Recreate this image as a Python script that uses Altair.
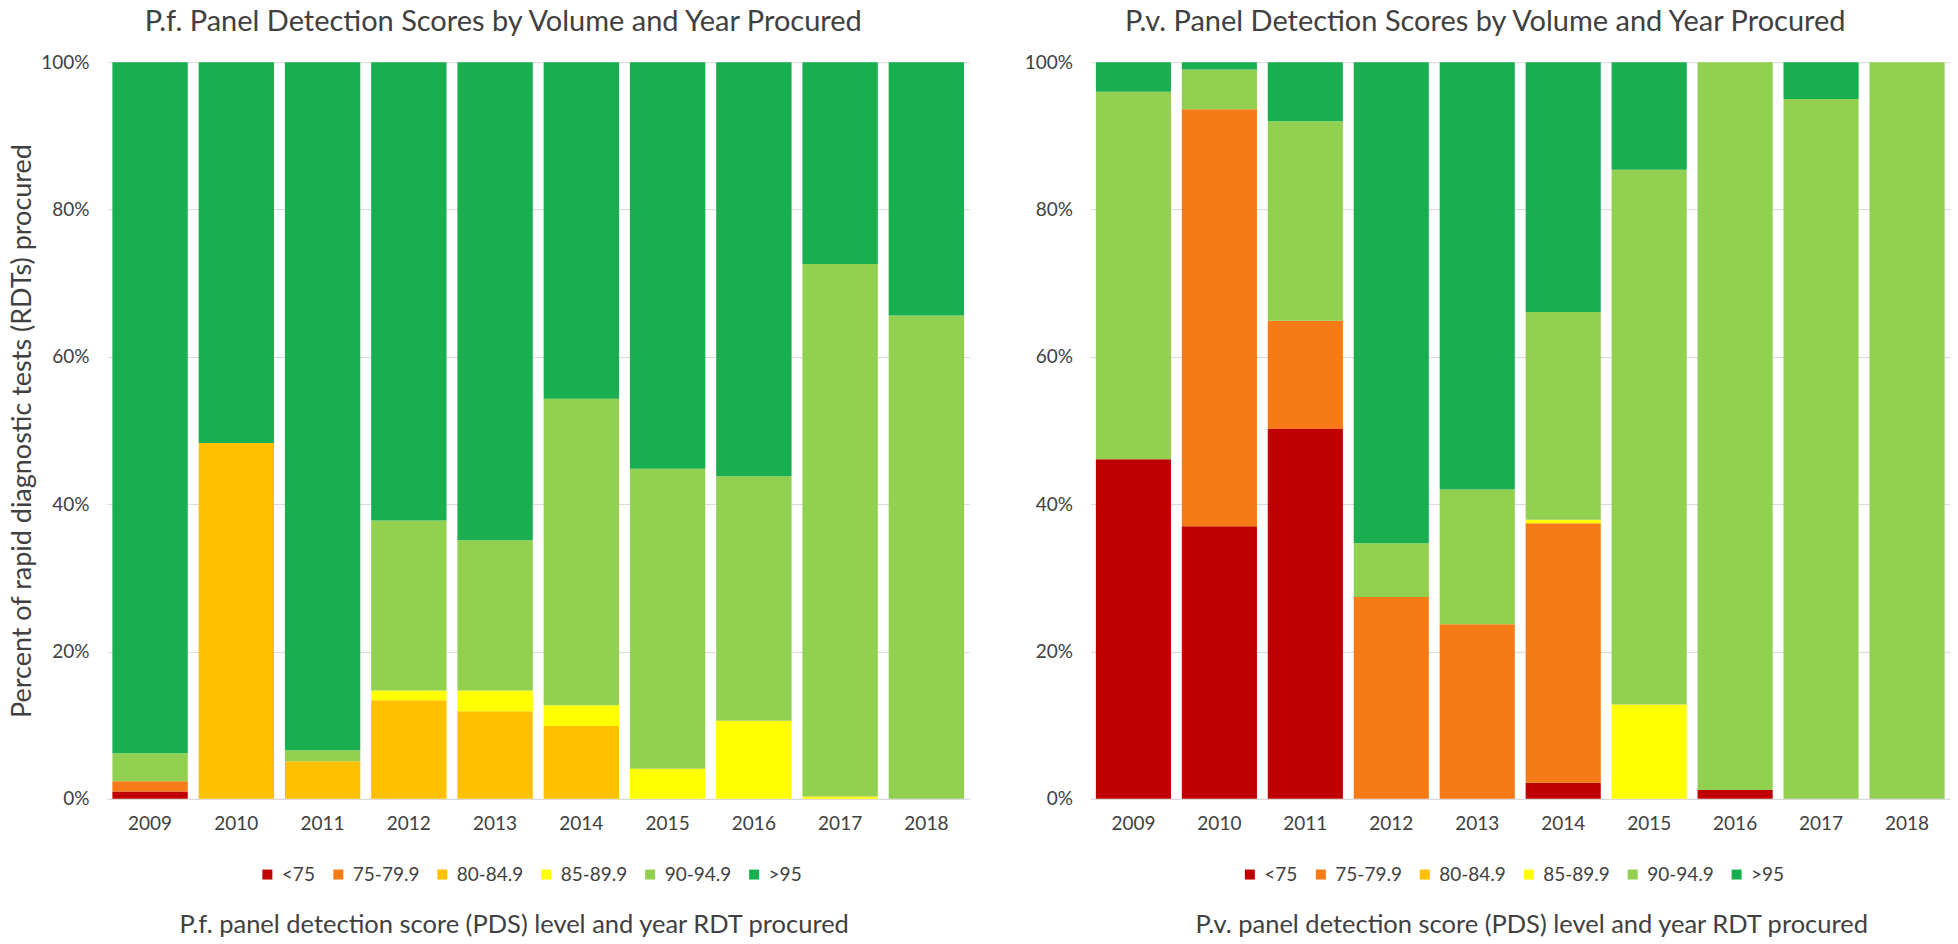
import altair as alt
import pandas as pd

years = ["2009", "2010", "2011", "2012", "2013", "2014", "2015", "2016", "2017", "2018"]
categories = ["<75", "75-79.9", "80-84.9", "85-89.9", "90-94.9", ">95"]
colors = ["#C00000", "#F67A15", "#FFC000", "#FFFF00", "#92D050", "#19AF50"]

# P.f. panel (percent of RDTs procured, per PDS level)
pf_lt75 = [1.0, 0, 0, 0, 0, 0, 0, 0, 0, 0]
pf_75_79 = [1.4, 0, 0, 0, 0, 0, 0, 0, 0, 0]
pf_80_84 = [0, 48.3, 5.1, 13.4, 11.9, 9.9, 0, 0, 0, 0]
pf_85_89 = [0, 0, 0, 1.3, 2.8, 2.8, 4.1, 10.6, 0.3, 0]
pf_90_94 = [3.8, 0, 1.5, 23.1, 20.4, 41.6, 40.7, 33.2, 72.3, 65.6]
pf_gt95 = [93.8, 51.7, 93.4, 62.2, 64.9, 45.7, 55.2, 56.2, 27.4, 34.4]

# P.v. panel
pv_lt75 = [46.1, 37.0, 50.2, 0, 0, 2.2, 0, 1.2, 0, 0]
pv_75_79 = [0, 56.6, 14.7, 27.4, 23.7, 35.2, 0, 0, 0, 0]
pv_80_84 = [0, 0, 0, 0, 0, 0, 0, 0, 0, 0]
pv_85_89 = [0, 0, 0, 0, 0, 0.5, 12.8, 0, 0, 0]
pv_90_94 = [49.9, 5.4, 27.1, 7.3, 18.3, 28.2, 72.6, 98.8, 95.0, 100.0]
pv_gt95 = [4.0, 1.0, 8.0, 65.3, 58.0, 33.9, 14.6, 0, 5.0, 0]

FONT = "Lato"
TXT = "#404040"
GRID = "#D9D9D9"
PLOT_H = 737


def build_df(series):
    rows = []
    for ci, cat in enumerate(categories):
        for yi, yr in enumerate(years):
            rows.append({"year": yr, "cat": cat, "k": ci, "v": series[ci][yi]})
    return pd.DataFrame(rows)


def panel(series, title, xtitle, ytitle, width, title_dx, xtitle_x, legend_x):
    yaxis_kw = dict(
        values=[0, 20, 40, 60, 80, 100],
        labelExpr="datum.value + '%'",
        domain=False,
        ticks=False,
        grid=True,
        gridColor=GRID,
        gridWidth=1,
        labelFont=FONT,
        labelFontSize=19,
        labelColor=TXT,
        labelPadding=18,
    )
    if ytitle:
        yaxis_kw.update(
            title=ytitle,
            titleFont=FONT,
            titleFontSize=27,
            titleFontWeight="normal",
            titleColor=TXT,
            titleX=-84,
            titleY=PLOT_H / 2,
            titleAlign="center",
            titleBaseline="middle",
            titleAngle=270,
        )
    else:
        yaxis_kw.update(title=None)

    return (
        alt.Chart(build_df(series))
        .transform_filter("datum.v > 0")
        .mark_bar()
        .encode(
            x=alt.X(
                "year:N",
                sort=years,
                scale=alt.Scale(paddingInner=0.126, paddingOuter=0.063),
                axis=alt.Axis(
                    title=xtitle,
                    labelAngle=0,
                    ticks=False,
                    domainColor=GRID,
                    domainWidth=1,
                    labelFont=FONT,
                    labelFontSize=19,
                    labelColor=TXT,
                    labelPadding=16,
                    titleFont=FONT,
                    titleFontSize=25.5,
                    titleFontWeight="normal",
                    titleColor=TXT,
                    titleX=xtitle_x,
                    titleY=126,
                    titleAlign="center",
                    titleBaseline="middle",
                ),
            ),
            y=alt.Y(
                "v:Q",
                stack="zero",
                scale=alt.Scale(domain=[0, 100], nice=False),
                axis=alt.Axis(**yaxis_kw),
            ),
            color=alt.Color(
                "cat:N",
                scale=alt.Scale(domain=categories, range=colors),
                legend=alt.Legend(
                    title=None,
                    orient="none",
                    legendX=legend_x,
                    legendY=803,
                    direction="horizontal",
                    symbolType="square",
                    symbolSize=100,
                    symbolStrokeWidth=0,
                    symbolOpacity=1,
                    labelFont=FONT,
                    labelFontSize=19,
                    labelColor=TXT,
                    labelOffset=5,
                    columnPadding=13,
                    padding=0,
                ),
            ),
            order=alt.Order("k:Q", sort="ascending"),
        )
        .properties(
            width=width,
            height=PLOT_H,
            title=alt.TitleParams(
                text=title,
                font=FONT,
                fontSize=29,
                fontWeight="normal",
                color=TXT,
                anchor="middle",
                dx=title_dx,
                offset=16,
            ),
        )
    )


left = panel(
    [pf_lt75, pf_75_79, pf_80_84, pf_85_89, pf_90_94, pf_gt95],
    "P.f. Panel Detection Scores by Volume and Year Procured",
    "P.f. panel detection score (PDS) level and year RDT procured",
    "Percent of rapid diagnostic tests (RDTs) procured",
    863, -35, 407, 151,
)
right = panel(
    [pv_lt75, pv_75_79, pv_80_84, pv_85_89, pv_90_94, pv_gt95],
    "P.v. Panel Detection Scores by Volume and Year Procured",
    "P.v. panel detection score (PDS) level and year RDT procured",
    None,
    860, -35, 441, 150,
)

chart = (
    alt.hconcat(left, right, spacing=54)
    .resolve_scale(color="independent")
    .properties(padding={"left": 0, "top": 0, "right": 0, "bottom": 0})
    .configure_view(stroke=None)
)

chart.save("out.html", embed_options={"renderer": "svg", "actions": False})
